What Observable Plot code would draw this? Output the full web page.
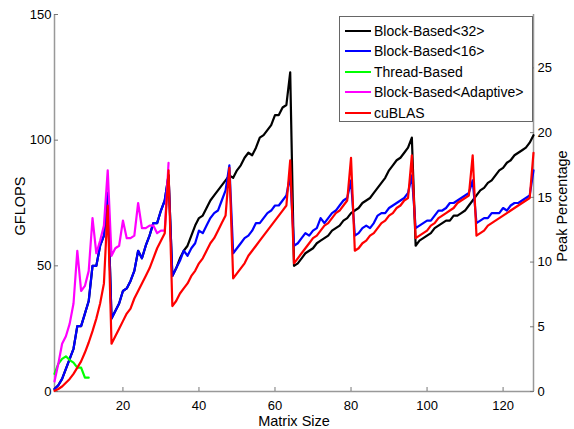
<!DOCTYPE html>
<html><head><meta charset="utf-8">
<script src="https://cdn.jsdelivr.net/npm/d3@7"></script>
<script src="https://cdn.jsdelivr.net/npm/@observablehq/plot@0.6"></script>
<style>
body{margin:0;background:#fff;font-family:"Liberation Sans",Arial,sans-serif}
#wrap{position:relative;width:574px;height:429px}
#legend{position:absolute;left:339px;top:16px;width:194px;height:106px;border:1px solid #666;background:#fff;box-sizing:border-box}
.row{position:absolute;left:5px;height:20px;display:flex;align-items:center;font-size:14px;color:#000;white-space:nowrap}
.sw{width:26px;height:0;border-top:2.5px solid;margin-right:3px}
</style></head>
<body><div id="wrap"><div id="legend"></div></div>
<script>
// Series names and colours
const names = ["Block-Based<32>", "Block-Based<16>", "Thread-Based", "Block-Based<Adaptive>", "cuBLAS"];
const colors = ["#000000", "#0000ff", "#00ff00", "#ff00ff", "#ff0000"];

// Matrix sizes start at 2
const block16 = [1,2.5,5,9,13,17,26,26,31,36,50,50,58,62,79,
  29,32,35,40,41,44,48,56,53,58,62,67,67,72,76,86,
  46,49,52,56,54,57,59,64,63,66,69,71,72,76,80,90,
  55,57,59,61,62,64,67,67,69,71,72,74,74,76,78,86,
  58,59,61,63,62,64,65,69,67,69,71,72,74,76,77,84,
  62,63,65,66,65,67,70,71,71,73,74,75,76,77,79,86,
  65,66,67,68,68,70,72,72,73,75,75,76,77,78,79,84,
  67,68,69,69,71,71,71,73,72,74,75,75,76,77,78,88];
const block32 = [1,2.5,5,9,13,17,26,26,31,36,50,50,58,62,79,
  29,32,35,40,41,44,48,56,53,58,62,67,67,72,76,86,
  46,49,53,56,58,62,66,69,70,73,76,78,80,82,84,86,
  85,88,90,93,95,94,97,101,102,104,106,110,110,113,114,127,
  50,51,53,55,56,57,59,60,61,62,64,65,66,68,69,71,
  72,73,75,76,77,79,81,83,85,88,90,92,93,95,97,101,
  58,60,61,62,63,65,66,67,68,68,70,70,71,72,74,76,
  78,80,81,83,84,86,88,89,91,92,94,95,96,97,99,102];
const threadBased = [7,11,13,14,12.5,11.5,9.5,9.5,5.5,5.5];
const adaptive = [4,11,19,22,27,35,56,40,42,48,69,55,60,66,88,
  54,57,58,68,61,61,62,75,65,65,66,66,63,64,64,91];
const cublas = [0.3,1,2,3.5,5,7,9.5,12,15.5,19.5,24,29,35,43,74,
  19,22,25,28,31,33,37,40,43,46,49,53,57,60,63,88,
  34,36,39,41,43,46,48,51,53,56,59,61,64,67,70,89,
  45,47,49,51,54,56,58,60,62,64,66,68,70,72,74,92,
  51,53,55,57,59,61,62,64,66,67,69,71,72,74,76,93,
  56,57,59,60,62,63,65,67,68,70,71,73,74,76,77,94,
  61,62,63,64,66,67,69,70,71,72,73,75,76,77,78,94,
  62,63,64,66,67,68,69,70,71,72,73,74,75,76,77,95];

const xTicks = [20,40,60,80,100,120];
const yTicks = [0,50,100,150];
const pctTicks = [0,5,10,15,20,25];
const peakGflops = 515;

const seriesArrays = [block32, block16, threadBased, adaptive, cublas];
const rows = [];
seriesArrays.forEach((arr, k) => arr.forEach((v, i) => rows.push({n: 2 + i, v, s: names[k]})));

const font = "'Liberation Sans', Arial, sans-serif";
const chart = Plot.plot({
  width: 574, height: 429,
  marginLeft: 54, marginRight: 41, marginTop: 14, marginBottom: 38,
  style: {fontFamily: font, fontSize: "13px", background: "#fff", color: "#000"},
  x: {domain: [2, 128]},
  y: {domain: [0, 150]},
  color: {domain: names, range: colors},
  marks: [
    Plot.ruleX([2, 128], {stroke: "#999", strokeWidth: 1.5}),
    Plot.ruleY([0], {stroke: "#999", strokeWidth: 1.5}),
    Plot.axisX({ticks: xTicks, tickSize: -4, tickFormat: () => "", stroke: "#777", label: null}),
    Plot.axisX({ticks: xTicks, tickSize: 0, tickPadding: 9, label: null}),
    Plot.axisY({ticks: yTicks, tickSize: -4, tickFormat: () => "", stroke: "#777", label: null}),
    Plot.axisY({ticks: yTicks, tickSize: 0, tickPadding: 3, label: null}),
    Plot.axisY({anchor: "right", ticks: pctTicks.map(p => p * peakGflops / 100), tickSize: -4, tickFormat: () => "", stroke: "#777", label: null}),
    Plot.axisY({anchor: "right", ticks: pctTicks.map(p => p * peakGflops / 100), tickSize: 0, tickPadding: 4, tickFormat: d => Math.round(d * 100 / peakGflops), label: null}),
    Plot.line(rows, {x: "n", y: "v", z: "s", stroke: "s", strokeWidth: 2.2, strokeLinejoin: "round"}),
    Plot.text(["GFLOPS"], {text: d => d, frameAnchor: "left", textAnchor: "middle", dx: -34, dy: 3, rotate: -90, fontSize: 14.5}),
    Plot.text(["Peak Percentage"], {text: d => d, frameAnchor: "right", textAnchor: "middle", dx: 29, dy: 3, rotate: -90, fontSize: 14.5}),
    Plot.text(["Matrix Size"], {text: d => d, frameAnchor: "bottom", dy: 30, lineAnchor: "middle", fontSize: 14.5})
  ]
});
const wrap = document.getElementById("wrap");
wrap.insertBefore(chart, wrap.firstChild);

const legend = document.getElementById("legend");
names.forEach((nm, i) => {
  const r = document.createElement("div");
  r.className = "row";
  r.style.top = (4 + i * 20.4) + "px";
  const sw = document.createElement("span");
  sw.className = "sw";
  sw.style.borderTopColor = colors[i];
  const t = document.createElement("span");
  t.textContent = nm;
  r.appendChild(sw); r.appendChild(t);
  legend.appendChild(r);
});
</script>
</body></html>
